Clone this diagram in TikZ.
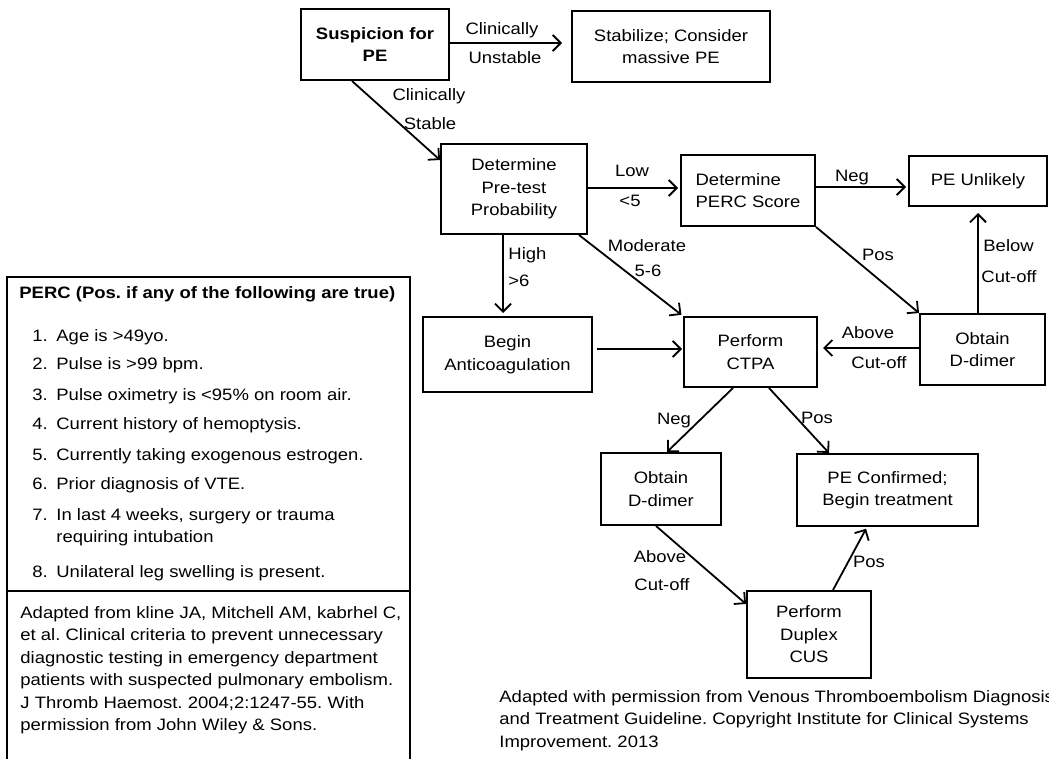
\documentclass[tikz,border=0pt]{standalone}
\usepackage{fontspec}
\setmainfont[FakeStretch=1.12]{Liberation Sans}
\usetikzlibrary{arrows.meta,positioning}
\newcommand{\fs}{\fontsize{8.25}{11.25}\selectfont\frenchspacing}

\begin{document}
\begin{tikzpicture}[x=0.5pt,y=-0.5pt,font=\fs]
\tikzset{
  caja/.style={draw,line width=1pt,align=center,inner sep=0pt},
  fl/.style={-{Straight Barb[length=4pt,width=8pt]},line width=0.9pt},
  lab/.style={inner sep=0pt,text height=6pt,text depth=0pt}
}
\useasboundingbox (0,0) rectangle (1049,759);
% cajas del algoritmo
\node[caja,minimum width=74pt,minimum height=35.5pt,font=\fs\bfseries] (susp) at (375,44.5) {Suspicion for\\PE};
\node[caja,minimum width=99pt,minimum height=35.5pt] (stab) at (671,46.5) {Stabilize; Consider\\massive PE};
\node[caja,minimum width=73pt,minimum height=45pt] (pretest) at (514,189) {Determine\\Pre-test\\Probability};
\node[caja,minimum width=67pt,minimum height=35.5pt,align=left] (perc) at (748,190.5) {Determine\\PERC Score};
\node[caja,minimum width=69pt,minimum height=25pt] (unlik) at (978,181) {PE Unlikely};
\node[caja,minimum width=62.5pt,minimum height=35.5pt] (ddimA) at (982.5,349.5) {Obtain\\D-dimer};
\node[caja,minimum width=66.5pt,minimum height=35pt] (ctpa) at (750.5,352) {Perform\\CTPA};
\node[caja,minimum width=84.5pt,minimum height=37.5pt] (anticoag) at (507.5,354.5) {Begin\\Anticoagulation};
\node[caja,minimum width=60pt,minimum height=36pt] (ddimB) at (661,489) {Obtain\\D-dimer};
\node[caja,minimum width=90.5pt,minimum height=36pt] (confirm) at (887.5,490) {PE Confirmed;\\Begin treatment};
\node[caja,minimum width=62pt,minimum height=43.5pt] (duplex) at (809,634.5) {Perform\\Duplex\\CUS};

% flechas
\draw[fl,shorten >=4.5pt] ([yshift=0.75pt]susp.east) -- ([yshift=0.75pt]susp.east -| stab.west);
\draw[fl] ([xshift=-11.5pt]susp.south) -- ([yshift=-8.5pt]pretest.north west);
\draw[fl,shorten >=1pt] ([yshift=0.5pt]pretest.east) -- ([yshift=0.5pt]pretest.east -| perc.west);
\draw[fl,shorten >=1pt] ([yshift=1.75pt]perc.east) -- ([yshift=1.75pt]perc.east -| unlik.west);
\draw[fl] (perc.south east) -- (ddimA.north west);
\draw[fl,shorten >=3pt] (ddimA.north -| unlik.south) -- (unlik.south);
\draw[fl,shorten >=2.5pt] ([yshift=2pt]ctpa.east -| ddimA.west) -- ([yshift=2pt]ctpa.east);
\draw[fl,shorten >=1.5pt] ([xshift=-5.5pt]pretest.south) -- ([xshift=-5.5pt]pretest.south |- anticoag.north);
\draw[fl,shorten >=1pt] ([xshift=-4.5pt]pretest.south east) -- (ctpa.north west);
\draw[fl,shorten <=2pt,shorten >=0.5pt] ([yshift=2.75pt]anticoag.east) -- ([yshift=2.75pt]anticoag.east -| ctpa.west);
\draw[fl] ([xshift=-8.75pt]ctpa.south) -- ([xshift=3pt]ddimB.north);
\draw[fl] ([xshift=9.25pt]ctpa.south) -- ([xshift=-29.25pt]confirm.north);
\draw[fl] ([xshift=-2.5pt]ddimB.south) -- ([yshift=-7pt]duplex.north west);
\draw[fl,shorten >=1pt] ([xshift=12pt]duplex.north) -- ([xshift=-10.25pt]confirm.south);

% rotulos
\node[lab] (lUnA) at (502,29) {Clinically};
\node[lab] (lUnB) at (505,58) {Unstable};
\node[lab] (lStA) at (429,95) {Clinically};
\node[lab] (lStB) at (430,124) {Stable};
\node[lab] (lLowA) at (632,171) {Low};
\node[lab] (lLowB) at (630,201) {<5};
\node[lab] (lNegA) at (852,176) {Neg};
\node[lab] (lPosA) at (878,255) {Pos};
\node[lab,anchor=west] (lBelA) at (983,246) {Below};
\node[lab,anchor=west] (lBelB) at (981,277) {Cut-off};
\node[lab] (lAbA) at (868,332) {Above};
\node[lab] (lAbB) at (879,362) {Cut-off};
\node[lab,anchor=west] (lHiA) at (508,254) {High};
\node[lab,anchor=west] (lHiB) at (508,280) {>6};
\node[lab] (lModA) at (647,246) {Moderate};
\node[lab] (lModB) at (648,271) {5-6};
\node[lab] (lNegB) at (674,418) {Neg};
\node[lab] (lPosB) at (817,417) {Pos};
\node[lab] (lAbC) at (660,556) {Above};
\node[lab] (lAbD) at (662,584) {Cut-off};
\node[lab] (lPosC) at (869,561) {Pos};

% recuadro PERC
\node[draw,line width=1pt,inner sep=0pt,minimum width=201.5pt,minimum height=247pt,anchor=north west] (crit) at (6,276) {};
\draw[line width=1pt] ([yshift=-157.5pt]crit.north west) -- ([yshift=-157.5pt]crit.north east);
\node[lab,anchor=west,font=\fs\bfseries] (critT) at (19,293) {PERC (Pos. if any of the following are true)};
\foreach \n/\y/\t in {1/335/{Age is >49yo.},2/363/{Pulse is >99 bpm.},
  3/394/{Pulse oximetry is <95\% on room air.},4/423/{Current history of hemoptysis.},
  5/454/{Currently taking exogenous estrogen.},6/483/{Prior diagnosis of VTE.},
  7/514/{},8/571/{Unilateral leg swelling is present.}}{
  \node[lab,anchor=west] (num\n) at (32,\y) {\n.};
  \node[lab,anchor=west] (item\n) at (56,\y) {\t};
}
\node[inner sep=0pt,anchor=north west,align=left] (item7b) at (56,508) {In last 4 weeks, surgery or trauma\\requiring intubation};
\node[inner sep=0pt,anchor=north west,align=left] (critRef) at (20,606) {Adapted from kline JA, Mitchell AM, kabrhel C,\\et al. Clinical criteria to prevent unnecessary\\diagnostic testing in emergency department\\patients with suspected pulmonary embolism.\\J Thromb Haemost. 2004;2:1247-55. With\\permission from John Wiley \& Sons.};

% fuente
\node[inner sep=0pt,anchor=north west,align=left] (fuente) at (499,690) {Adapted with permission from Venous Thromboembolism Diagnosis\\and Treatment Guideline. Copyright Institute for Clinical Systems\\Improvement. 2013};
\end{tikzpicture}
\end{document}
